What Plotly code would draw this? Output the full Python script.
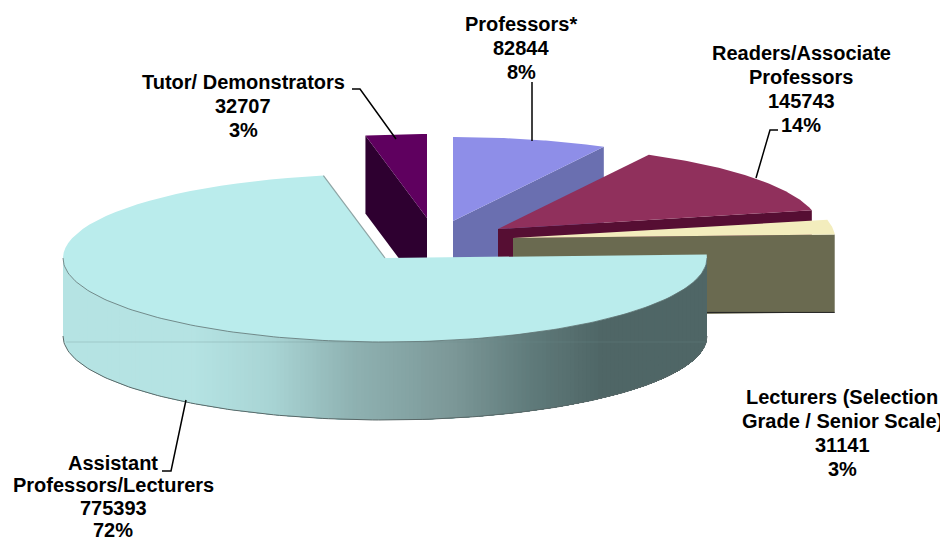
import math
import plotly.graph_objects as go

categories = ["Professors*", "Readers/Associate Professors", "Lecturers (Selection Grade / Senior Scale)",
              "Assistant Professors/Lecturers", "Tutor/ Demonstrators"]
values = [82844, 145743, 31141, 775393, 32707]
percent_labels = ["8%", "14%", "3%", "72%", "3%"]
label_lines = [["Professors*"], ["Readers/Associate", "Professors"],
               ["Lecturers (Selection", "Grade / Senior Scale)"],
               ["Assistant", "Professors/Lecturers"], ["Tutor/ Demonstrators"]]
label_x = [521, 801, 842, 113, 243]
label_y = [24, 53, 397, 463, 82]
label_spacing = [24, 24, 24, 22.3, 24]
top_colors = ["#8E8EE8", "#90305C", "#F3EDBD", "#BAECEC", "#5F005F"]
side_colors = ["#6A6FB0", "#560E33", "#6A6A50", "#5F7A7A", "#2E0030"]
centers_x = [453, 498, 513, 385, 427]
centers_y = [221, 229, 238, 258, 218]
leader_x = [[532, 532], [778, 770, 756], None, [162, 171, 186], [352, 360, 396]]
leader_y = [[82, 141], [130, 130, 178], None, [471, 471, 400], [89, 89, 139]]
grad_x = [63, 190, 270, 350, 450, 530, 600, 706]
grad_rgb = [(181, 227, 227), (181, 227, 227), (168, 212, 212), (143, 178, 178),
            (124, 152, 152), (95, 122, 122), (79, 102, 102), (79, 102, 102)]

RX, RY, DEPTH = 322, 84, 78
START = -90.0
total = sum(values)
spans = []
a = START
for v in values:
    spans.append((a, a + v / total * 360))
    a += v / total * 360


def pt(i, t):
    return centers_x[i] + RX * math.cos(math.radians(t)), centers_y[i] + RY * math.sin(math.radians(t))


def arc(i, t0, t1, n=80):
    return [pt(i, t0 + (t1 - t0) * k / n) for k in range(n + 1)]


def poly(fig, pts, color):
    xs = [p[0] for p in pts] + [pts[0][0]]
    ys = [p[1] for p in pts] + [pts[0][1]]
    fig.add_trace(go.Scatter(x=xs, y=ys, mode="lines", fill="toself", fillcolor=color,
                             line=dict(color=color, width=0),
                             hoverinfo="skip", showlegend=False))


def line(fig, xs, ys, color, width):
    fig.add_trace(go.Scatter(x=xs, y=ys, mode="lines", line=dict(color=color, width=width),
                             hoverinfo="skip", showlegend=False))


def grad(x):
    for k in range(len(grad_x) - 1):
        if grad_x[k] <= x <= grad_x[k + 1]:
            f = (x - grad_x[k]) / (grad_x[k + 1] - grad_x[k])
            c = [round(grad_rgb[k][j] + f * (grad_rgb[k + 1][j] - grad_rgb[k][j])) for j in range(3)]
            return "rgb(%d,%d,%d)" % tuple(c)
    return "rgb(79,102,102)"


fig = go.Figure()
MAIN = 3
for i in [4, 0, 1, 2, 3]:
    t0, t1 = spans[i]
    c = (centers_x[i], centers_y[i])
    if i == MAIN:
        n = 160
        for k in range(n):
            # longest strip first; each shorter one paints over the right part, so no seams remain
            x_end = centers_x[i] - RX + 2 * RX * k / n
            t_end = math.degrees(math.acos(max(-1, min(1, (x_end - centers_x[i]) / RX))))
            strip = arc(i, 0, t_end, 50)
            lower = [(p[0], p[1] + DEPTH) for p in reversed(strip)]
            poly(fig, strip + lower, grad(x_end))
        line(fig, [66, 706], [342, 342], "rgba(110,140,140,0.3)", 1)
    elif i == 4:
        p0 = pt(i, t0)
        poly(fig, [p0, c, (c[0], c[1] + DEPTH), (p0[0], p0[1] + DEPTH)], side_colors[i])
    else:
        p1 = pt(i, t1)
        poly(fig, [c, p1, (p1[0], p1[1] + DEPTH), (c[0], c[1] + DEPTH)], side_colors[i])
        if i == 2:
            line(fig, [c[0], p1[0]], [p1[1] + DEPTH] * 2, "#222222", 1)
    poly(fig, [c] + arc(i, t0, t1), top_colors[i])
    if i == MAIN:
        lower = arc(i, 0, 180, 160)
        line(fig, [p[0] for p in lower], [p[1] + DEPTH for p in lower], "#5A6868", 1)
        line(fig, [p[0] for p in lower], [p[1] for p in lower], "#5F7272", 0.8)
        edge = [pt(i, t1), c]
        line(fig, [p[0] for p in edge], [p[1] for p in edge], "#8FA5A5", 1.2)

for lx, ly in zip(leader_x, leader_y):
    if lx:
        line(fig, lx, ly, "#000000", 1.5)

for i in range(len(categories)):
    rows = label_lines[i] + [str(values[i]), percent_labels[i]]
    for r, row in enumerate(rows):
        fig.add_annotation(x=label_x[i], y=label_y[i] + r * label_spacing[i], xref="x", yref="y", text=row,
                           showarrow=False, xanchor="center", yanchor="middle", align="center",
                           font=dict(family="Liberation Sans", size=20, color="#000000", weight="bold"))

fig.update_layout(width=940, height=533, margin=dict(l=0, r=0, t=0, b=0), autosize=False,
                  paper_bgcolor="#FFFFFF", plot_bgcolor="#FFFFFF", showlegend=False,
                  xaxis=dict(range=[8, 948], visible=False, fixedrange=True),
                  yaxis=dict(range=[541, 8], visible=False, fixedrange=True))
fig.write_html("out.html", config={"displayModeBar": False})
